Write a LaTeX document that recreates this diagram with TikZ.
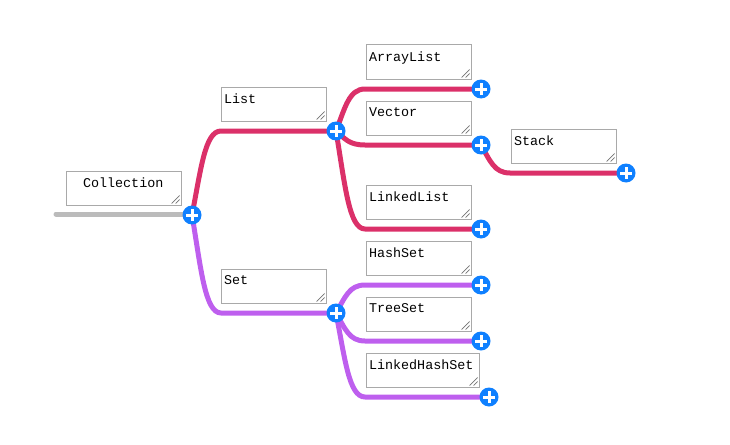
\documentclass[tikz,border=0pt]{standalone}
\usepackage{fontspec}
\setmainfont{Liberation Mono}
\usetikzlibrary{calc,backgrounds}
\definecolor{crim}{HTML}{DB3069}
\definecolor{purp}{HTML}{BE5FEE}
\definecolor{rootgray}{HTML}{BBBBBB}
\definecolor{plusblue}{HTML}{0F80FF}
\definecolor{boxgray}{HTML}{A9A9A9}
\tikzset{
  x=1pt,y=-1pt,
  tbox/.style={draw=boxgray,line width=1pt,inner sep=0pt,anchor=north west,fill=white},
  gripline/.style={draw=black!55,line width=.7pt},
  plus/.style={circle,fill=plusblue,inner sep=0pt,minimum size=19pt,
    path picture={\draw[white,line width=3pt]
      (path picture bounding box.center)+(-6,0) -- +(6,0)
      (path picture bounding box.center)+(0,-6) -- +(0,6);}},
  conn/.style={line width=5pt,line cap=round},
}
\newcommand{\tbx}[6]{% name x y w h text
  \node[tbox] (#1) at (#2,#3) {\parbox[t][#5pt][t]{#4pt}{\fontsize{13.4pt}{15pt}\selectfont\vspace{7pt}\hspace*{3pt}#6}};
  \draw[gripline] (#1.south east)+(-10,-2) -- +(-2,-10) (#1.south east)+(-6,-2) -- +(-2,-6);
}
\newcommand{\cnn}[3]{% from to colour
  \draw[conn,#3] (#1.center) .. controls ($(#1.center)!0.55!(#1.center|-#2.center)+(9,0)$) and ($(#1.center|-#2.center)+(13,0)$) .. ($(#1.center|-#2.center)+(29,0)$) -- (#2.center);
}
\begin{document}
\begin{tikzpicture}
\useasboundingbox (0,0) rectangle (730,444);
\tbx{tColl}{65.5}{170.5}{115}{34}{\hspace*{14pt}Collection}
\tbx{tList}{220.5}{86.5}{105}{34}{List}
\tbx{tArr}{365.5}{44.5}{105}{34}{ArrayList}
\tbx{tVec}{365.5}{100.5}{105}{34}{Vector}
\tbx{tStack}{510.5}{128.5}{105}{34}{Stack}
\tbx{tLL}{365.5}{184.5}{105}{34}{LinkedList}
\tbx{tSet}{220.5}{268.5}{105}{34}{Set}
\tbx{tHS}{365.5}{240.5}{105}{34}{HashSet}
\tbx{tTS}{365.5}{296.5}{105}{34}{TreeSet}
\tbx{tLHS}{365.5}{352.5}{113}{34}{LinkedHashSet}
\node[plus] (pColl) at (192,215) {};
\node[plus] (pList) at (336,131) {};
\node[plus] (pArr) at (481,89) {};
\node[plus] (pVec) at (481,145) {};
\node[plus] (pStack) at (626,173) {};
\node[plus] (pLL) at (481,229) {};
\node[plus] (pSet) at (336,313) {};
\node[plus] (pHS) at (481,285) {};
\node[plus] (pTS) at (481,341) {};
\node[plus] (pLHS) at (489,397) {};
\coordinate (rootstart) at (56,214);
\begin{pgfonlayer}{background}
\draw[conn,rootgray] (rootstart) -- (rootstart -| pColl.center);
\cnn{pColl}{pList}{crim}
\cnn{pList}{pArr}{crim}
\cnn{pList}{pVec}{crim}
\cnn{pList}{pLL}{crim}
\cnn{pVec}{pStack}{crim}
\cnn{pColl}{pSet}{purp}
\cnn{pSet}{pHS}{purp}
\cnn{pSet}{pTS}{purp}
\cnn{pSet}{pLHS}{purp}
\end{pgfonlayer}
\end{tikzpicture}
\end{document}
